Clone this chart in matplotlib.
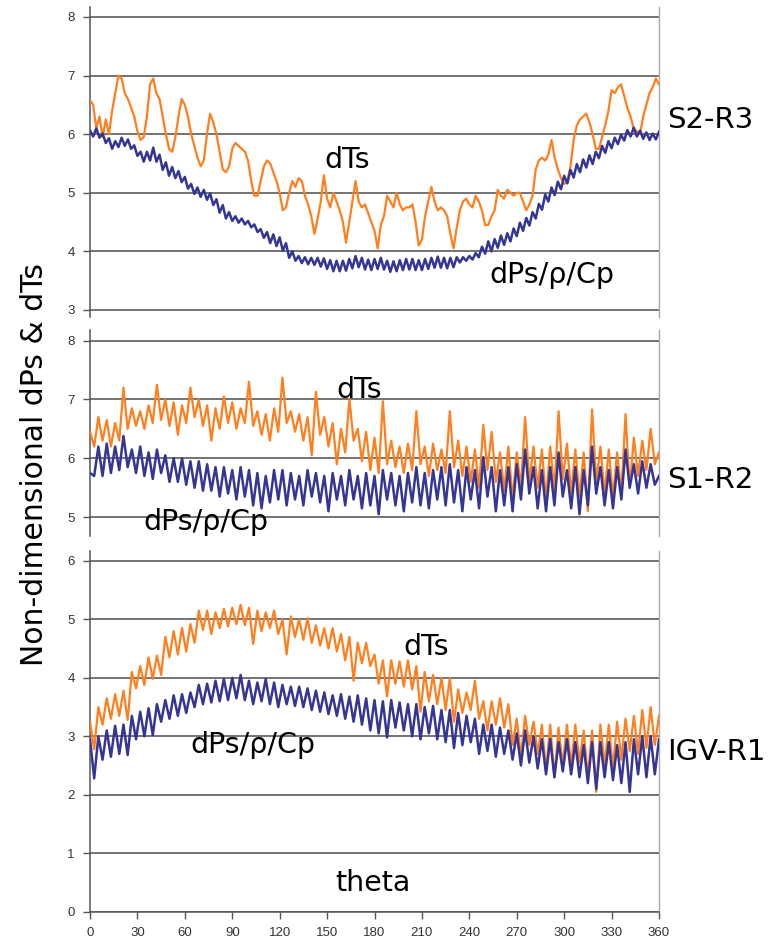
import numpy as np
import matplotlib
matplotlib.use('Agg')
import matplotlib.pyplot as plt

# S2-R3 (top) : dTs sampled every 2 deg, dPs/rho/Cp sampled every 2 deg
dTs_s2r3 = [6.58, 6.5, 6.1, 6.3, 5.95, 6.25, 6.0, 6.4, 6.7, 7.0,
            6.95, 6.7, 6.6, 6.45, 6.3, 6.05, 5.9, 5.95, 6.3, 6.85,
            6.95, 6.7, 6.6, 6.3, 6.0, 5.75, 5.7, 5.95, 6.3, 6.6,
            6.5, 6.3, 6.0, 5.8, 5.6, 5.45, 5.55, 6.0, 6.35, 6.2,
            6.0, 5.7, 5.4, 5.35, 5.45, 5.75, 5.85, 5.8, 5.75, 5.7,
            5.55, 5.2, 4.95, 4.95, 5.2, 5.45, 5.55, 5.5, 5.35, 5.2,
            5.0, 4.7, 4.75, 5.0, 5.2, 5.1, 5.25, 5.2, 4.95, 4.8,
            4.6, 4.3, 4.55, 4.85, 5.3, 4.9, 4.75, 5.0, 4.85, 4.7,
            4.5, 4.15, 4.5, 4.85, 5.2, 4.85, 4.75, 4.8, 4.65, 4.5,
            4.35, 4.05, 4.45, 4.6, 4.95, 4.85, 4.75, 5.0, 4.8, 4.7,
            4.75, 4.75, 4.8, 4.5, 4.1, 4.2, 4.6, 4.85, 5.1, 4.85,
            4.7, 4.75, 4.7, 4.6, 4.3, 4.05, 4.4, 4.7, 4.85, 4.9,
            4.8, 4.75, 4.95, 4.85, 4.7, 4.45, 4.45, 4.6, 4.7, 5.05,
            4.95, 4.9, 5.05, 5.0, 4.95, 5.0, 5.0, 4.85, 4.7, 4.8,
            4.95, 5.4, 5.55, 5.6, 5.55, 5.65, 5.9, 5.6, 5.4, 5.25,
            5.15, 5.2, 5.45, 5.9, 6.15, 6.25, 6.3, 6.35, 6.2, 6.0,
            5.75, 5.75, 5.95, 6.15, 6.4, 6.75, 6.7, 6.8, 6.85, 6.65,
            6.45, 6.3, 6.1, 6.05, 6.0, 6.3, 6.5, 6.7, 6.8, 6.95,
            6.85]
dPs_s2r3 = [6.06, 5.96, 6.1, 5.94, 6.01, 5.85, 5.93, 5.75, 5.88, 5.78,
            5.94, 5.8, 5.91, 5.75, 5.81, 5.63, 5.7, 5.53, 5.7, 5.55,
            5.77, 5.53, 5.65, 5.39, 5.52, 5.29, 5.44, 5.25, 5.37, 5.18,
            5.27, 5.07, 5.15, 4.98, 5.09, 4.93, 5.05, 4.88, 4.99, 4.79,
            4.89, 4.66, 4.79, 4.56, 4.67, 4.52, 4.6, 4.49, 4.56, 4.46,
            4.52, 4.41, 4.46, 4.33, 4.38, 4.23, 4.33, 4.14, 4.29, 4.09,
            4.24, 4.01, 4.14, 3.89, 4.0, 3.84, 3.92, 3.8, 3.9, 3.78,
            3.89, 3.77, 3.89, 3.74, 3.88, 3.7, 3.85, 3.66, 3.84, 3.66,
            3.84, 3.67, 3.87, 3.71, 3.92, 3.73, 3.89, 3.69, 3.86, 3.68,
            3.87, 3.7, 3.89, 3.69, 3.84, 3.65, 3.83, 3.66, 3.85, 3.68,
            3.87, 3.69, 3.87, 3.68, 3.85, 3.68, 3.87, 3.7, 3.89, 3.72,
            3.91, 3.72, 3.89, 3.71, 3.89, 3.73, 3.9, 3.81, 3.9, 3.84,
            3.92, 3.86, 3.97, 3.9, 4.08, 3.96, 4.17, 4.0, 4.21, 4.06,
            4.27, 4.11, 4.31, 4.17, 4.39, 4.26, 4.49, 4.35, 4.57, 4.44,
            4.67, 4.56, 4.81, 4.71, 4.97, 4.85, 5.09, 4.96, 5.19, 5.06,
            5.29, 5.16, 5.39, 5.26, 5.49, 5.35, 5.57, 5.43, 5.64, 5.49,
            5.7, 5.59, 5.8, 5.68, 5.88, 5.76, 5.94, 5.83, 5.99, 5.89,
            6.07, 5.96, 6.11, 5.96, 6.06, 5.92, 6.03, 5.9, 6.01, 5.91,
            6.04]

# S1-R2 (middle) : peaks / troughs of the blade passing wave
dTs_s1r2 = [6.45, 6.2, 6.7, 6.3, 6.65, 6.2, 6.6, 6.3, 7.2, 6.5,
            6.85, 6.55, 6.8, 6.5, 6.9, 6.6, 7.25, 6.65, 7.0, 6.55,
            6.95, 6.4, 6.9, 6.6, 7.2, 6.7, 7.0, 6.55, 6.9, 6.3,
            6.85, 6.5, 7.05, 6.6, 6.95, 6.5, 6.85, 6.6, 7.3, 6.55,
            6.8, 6.4, 6.75, 6.3, 6.85, 6.45, 7.37, 6.6, 6.8, 6.45,
            6.75, 6.3, 6.7, 6.05, 7.13, 6.4, 6.7, 6.2, 6.6, 5.9,
            6.5, 6.1, 7.0, 6.3, 6.5, 5.95, 6.45, 5.8, 6.35, 5.75,
            6.97, 5.9, 6.3, 5.85, 6.2, 5.75, 6.25, 5.8, 6.8, 5.9,
            6.2, 5.7, 6.25, 5.8, 6.15, 5.75, 6.8, 5.85, 6.3, 5.7,
            6.2, 5.6, 6.15, 5.5, 6.57, 5.8, 6.45, 5.6, 6.1, 5.45,
            6.2, 5.3, 6.1, 5.5, 6.7, 5.6, 6.2, 5.5, 6.15, 5.3,
            6.2, 5.45, 6.8, 5.65, 6.25, 5.4, 6.15, 5.35, 6.1, 5.1,
            6.83, 5.6, 6.2, 5.4, 6.15, 5.35, 6.1, 5.4, 6.75, 5.5,
            6.35, 5.7, 6.3, 5.8, 6.5, 5.9, 6.1]
dPs_s1r2 = [5.75, 5.7, 6.2, 5.7, 6.25, 5.75, 6.2, 5.8, 6.38, 5.85,
            6.15, 5.75, 6.2, 5.7, 6.1, 5.65, 6.15, 5.75, 6.05, 5.6,
            6.0, 5.6, 6.0, 5.55, 5.95, 5.5, 5.95, 5.45, 5.9, 5.45,
            5.85, 5.35, 5.85, 5.4, 5.8, 5.3, 5.85, 5.35, 5.8, 5.2,
            5.75, 5.15, 5.7, 5.25, 5.8, 5.3, 5.8, 5.2, 5.75, 5.3,
            5.7, 5.2, 5.8, 5.35, 5.75, 5.25, 5.7, 5.1, 5.75, 5.3,
            5.7, 5.2, 5.8, 5.3, 5.7, 5.15, 5.75, 5.2, 5.7, 5.05,
            5.8, 5.3, 5.75, 5.2, 5.7, 5.1, 5.75, 5.25, 5.85, 5.2,
            5.75, 5.15, 5.8, 5.3, 5.85, 5.2, 5.9, 5.25, 5.8, 5.1,
            5.85, 5.3, 5.8, 5.15, 6.02, 5.35, 5.85, 5.1, 5.8, 5.2,
            5.85, 5.1, 5.9, 5.3, 6.15, 5.4, 5.85, 5.15, 5.8, 5.1,
            5.85, 5.2, 6.1, 5.35, 5.8, 5.15, 5.85, 5.05, 5.8, 5.2,
            6.2, 5.4, 5.85, 5.2, 5.8, 5.15, 5.85, 5.3, 6.15, 5.5,
            5.9, 5.4, 5.95, 5.5, 5.9, 5.55, 5.7]

# IGV-R1 (bottom)
dTs_igvr1 = [3.25, 2.78, 3.5, 3.2, 3.65, 3.3, 3.72, 3.35, 3.78, 3.28,
             4.1, 3.82, 4.2, 3.88, 4.35, 3.98, 4.38, 4.05, 4.7, 4.35,
             4.8, 4.4, 4.85, 4.45, 4.92, 4.6, 5.15, 4.82, 5.15, 4.75,
             5.12, 4.85, 5.18, 4.88, 5.2, 4.92, 5.25, 4.9, 5.2, 4.58,
             5.15, 4.8, 5.12, 4.85, 5.15, 4.75, 5.0, 4.4, 5.05, 4.7,
             5.0, 4.65, 5.02, 4.6, 4.9, 4.55, 4.85, 4.5, 4.85, 4.45,
             4.75, 4.3, 4.7, 3.95, 4.6, 4.25, 4.6, 4.2, 4.4, 3.9,
             4.3, 3.68, 4.3, 3.9, 4.28, 3.85, 4.3, 3.8, 4.2, 3.42,
             4.1, 3.6, 4.05, 3.55, 4.0, 3.45, 4.0, 3.25, 3.8, 3.4,
             3.75, 3.45, 3.95, 3.3, 3.6, 3.1, 3.6, 3.2, 3.65, 3.15,
             3.55, 2.85, 3.3, 2.65, 3.35, 2.85, 3.25, 2.7, 3.2, 2.4,
             3.2, 2.3, 3.15, 2.5, 3.2, 2.5, 3.2, 2.55, 3.1, 2.3,
             3.1, 2.05, 3.2, 2.5, 3.2, 2.45, 3.25, 2.6, 3.3, 2.75,
             3.35, 2.7, 3.45, 2.8, 3.5, 2.85, 3.35]
dPs_igvr1 = [2.95, 2.28, 3.0, 2.6, 3.1, 2.65, 3.18, 2.7, 3.2, 2.68,
             3.35, 2.95, 3.42, 3.0, 3.48, 3.02, 3.55, 3.25, 3.62, 3.3,
             3.7, 3.35, 3.72, 3.4, 3.75, 3.5, 3.88, 3.55, 3.9, 3.58,
             3.95, 3.6, 3.98, 3.62, 4.0, 3.65, 4.05, 3.62, 3.95, 3.55,
             3.92, 3.6, 3.98, 3.55, 3.92, 3.5, 3.88, 3.55, 3.85, 3.52,
             3.85, 3.5, 3.82, 3.45, 3.78, 3.42, 3.75, 3.38, 3.7, 3.35,
             3.72, 3.3, 3.68, 3.25, 3.7, 3.2, 3.65, 3.1, 3.62, 3.05,
             3.6, 2.98, 3.62, 3.15, 3.58, 3.1, 3.55, 3.0, 3.55, 2.95,
             3.5, 3.05, 3.52, 2.95, 3.45, 2.9, 3.45, 2.8, 3.4, 2.85,
             3.35, 2.9, 3.3, 2.7, 3.2, 2.75, 3.2, 2.65, 3.15, 2.7,
             3.1, 2.6, 3.05, 2.5, 3.1, 2.55, 3.0, 2.45, 2.95, 2.35,
             2.95, 2.3, 2.9, 2.4, 2.95, 2.35, 2.9, 2.3, 2.85, 2.2,
             2.9, 2.1, 2.9, 2.3, 2.9, 2.25, 2.85, 2.2, 2.9, 2.05,
             2.95, 2.35, 3.0, 2.3, 3.0, 2.35, 2.95]

panel_names = ['S2-R3', 'S1-R2', 'IGV-R1']
x_ticks = [0, 30, 60, 90, 120, 150, 180, 210, 240, 270, 300, 330, 360]

ORANGE = '#ff7f1e'
NAVY = '#353594'
GRID = '#4d4d4d'

fig = plt.figure(figsize=(7.82, 9.47), dpi=100)

W, H = 782.0, 947.0
def add_panel(top_px, bot_px):
    return fig.add_axes([90 / W, 1 - bot_px / H, 569 / W, (bot_px - top_px) / H])

ax1 = add_panel(7, 317)
ax2 = add_panel(330, 536)
ax3 = add_panel(551, 911.7)

panels = [
    (ax1, dTs_s2r3, dPs_s2r3, (2.88, 8.17), [3, 4, 5, 6, 7, 8]),
    (ax2, dTs_s1r2, dPs_s1r2, (4.68, 8.18), [5, 6, 7, 8]),
    (ax3, dTs_igvr1, dPs_igvr1, (0, 6.17), [0, 1, 2, 3, 4, 5, 6]),
]

for ax, dts, dps, ylim, yt in panels:
    xt = np.linspace(0, 360, len(dts))
    xp = np.linspace(0, 360, len(dps))
    ax.plot(xt, dts, color=ORANGE, lw=1.6, zorder=3)
    ax.plot(xp, dps, color=NAVY, lw=1.8, zorder=4)
    ax.set_xlim(0, 360)
    ax.set_ylim(*ylim)
    ax.set_yticks(yt)
    for v in yt:
        ax.axhline(v, color=GRID, lw=1.1, zorder=1)
    for s in ['top', 'bottom']:
        ax.spines[s].set_visible(False)
    ax.spines['left'].set_color('#555555')
    ax.spines['left'].set_linewidth(1.1)
    ax.spines['right'].set_color('#aaaaaa')
    ax.spines['right'].set_linewidth(1.0)
    ax.tick_params(axis='y', direction='out', length=5, width=1, color='#555555',
                   labelsize=9.5, labelcolor='#333333', pad=6)
    ax.set_facecolor('none')
    for lab in ax.get_yticklabels():
        lab.set_fontfamily('Liberation Sans')

ax1.set_xticks([]); ax2.set_xticks([])
ax3.spines['bottom'].set_visible(True)
ax3.spines['bottom'].set_color('#555555')
ax3.spines['bottom'].set_linewidth(1.1)
ax3.set_xticks(x_ticks)
ax3.tick_params(axis='x', direction='out', length=5, width=1, color='#555555',
                labelsize=9.5, labelcolor='#333333', pad=6)
for lab in ax3.get_xticklabels():
    lab.set_fontfamily('Liberation Sans')

lbl = dict(fontsize=20.5, color='black', ha='center', va='center', zorder=6)
ax1.text(163, 5.56, 'dTs', **lbl)
ax1.text(292, 3.6, 'dPs/\u03c1/Cp', **lbl)
ax2.text(170, 7.16, 'dTs', **lbl)
ax2.text(73, 4.92, 'dPs/\u03c1/Cp', clip_on=False, **lbl)
ax3.text(213, 4.52, 'dTs', **lbl)
ax3.text(103, 2.85, 'dPs/\u03c1/Cp', **lbl)
ax3.text(179, 0.49, 'theta', **lbl)

side_y = [120, 480, 752]
for name, yp in zip(panel_names, side_y):
    fig.text(667 / W, 1 - yp / H, name, fontsize=21, ha='left', va='center')

fig.text(35 / W, 1 - 465 / H, 'Non-dimensional dPs & dTs', fontsize=21.5,
         rotation=90, ha='center', va='center')

fig.savefig('out.png', dpi=100)
